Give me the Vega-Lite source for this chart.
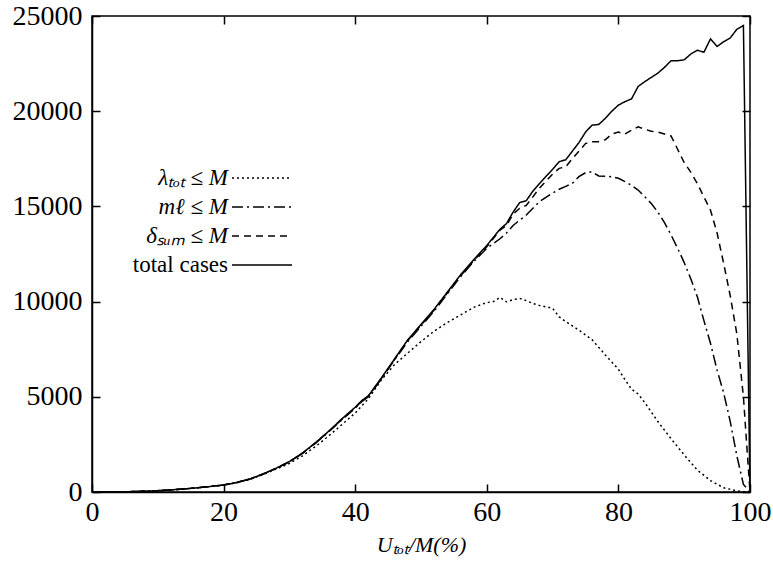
{
  "$schema": "https://vega.github.io/schema/vega-lite/v6.json",
  "width": 658,
  "height": 476,
  "autosize": {"type": "none"},
  "padding": {"left": 92, "top": 16, "right": 23, "bottom": 72},
  "background": "white",
  "config": {
    "view": {"stroke": "black", "strokeWidth": 1.5},
    "font": "Liberation Serif",
    "axis": {"grid": false, "domainColor": "black", "tickColor": "#000000", "labelColor": "black", "titleColor": "black", "domainWidth": 1.5, "tickWidth": 1.5, "labelFont": "Liberation Serif", "titleFont": "Liberation Serif"}
  },
  "datasets": {
    "frame": [{"x": 0, "y": 0}, {"x": 100, "y": 25000}],
    "curves": [
    {"x":0,"k":"t","y":0},{"x":2,"k":"t","y":2},{"x":4,"k":"t","y":8},{"x":6,"k":"t","y":20},{"x":8,"k":"t","y":40},{"x":10,"k":"t","y":70},{"x":12,"k":"t","y":110},{"x":14,"k":"t","y":160},{"x":16,"k":"t","y":220},{"x":18,"k":"t","y":290},{"x":20,"k":"t","y":370},{"x":22,"k":"t","y":500},{"x":24,"k":"t","y":680},{"x":26,"k":"t","y":950},{"x":28,"k":"t","y":1250},{"x":30,"k":"t","y":1600},{"x":32,"k":"t","y":2050},{"x":34,"k":"t","y":2600},{"x":36,"k":"t","y":3200},{"x":38,"k":"t","y":3850},{"x":40,"k":"t","y":4450},{"x":41,"k":"t","y":4800},{"x":42,"k":"t","y":5050},{"x":44,"k":"t","y":6000},{"x":46,"k":"t","y":7000},{"x":48,"k":"t","y":8000},{"x":50,"k":"t","y":8800},{"x":52,"k":"t","y":9600},{"x":54,"k":"t","y":10500},{"x":56,"k":"t","y":11400},{"x":58,"k":"t","y":12200},{"x":60,"k":"t","y":12950},{"x":62,"k":"t","y":13800},{"x":63,"k":"t","y":14100},{"x":64,"k":"t","y":14700},{"x":65,"k":"t","y":15200},{"x":66,"k":"t","y":15300},{"x":67,"k":"t","y":15800},{"x":68,"k":"t","y":16200},{"x":70,"k":"t","y":16950},{"x":71,"k":"t","y":17350},{"x":72,"k":"t","y":17450},{"x":74,"k":"t","y":18350},{"x":75,"k":"t","y":18900},{"x":76,"k":"t","y":19270},{"x":77,"k":"t","y":19300},{"x":78,"k":"t","y":19620},{"x":79,"k":"t","y":20000},{"x":80,"k":"t","y":20320},{"x":81,"k":"t","y":20500},{"x":82,"k":"t","y":20650},{"x":83,"k":"t","y":21300},{"x":84,"k":"t","y":21550},{"x":86,"k":"t","y":22000},{"x":87,"k":"t","y":22300},{"x":88,"k":"t","y":22650},{"x":89,"k":"t","y":22650},{"x":90,"k":"t","y":22700},{"x":91,"k":"t","y":23000},{"x":92,"k":"t","y":23200},{"x":93,"k":"t","y":23100},{"x":94,"k":"t","y":23800},{"x":95,"k":"t","y":23400},{"x":96,"k":"t","y":23650},{"x":97,"k":"t","y":23850},{"x":98,"k":"t","y":24300},{"x":99,"k":"t","y":24500},{"x":100,"k":"t","y":0},
    {"x":0,"k":"m","y":0},{"x":2,"k":"m","y":2},{"x":4,"k":"m","y":8},{"x":6,"k":"m","y":20},{"x":8,"k":"m","y":40},{"x":10,"k":"m","y":70},{"x":12,"k":"m","y":110},{"x":14,"k":"m","y":160},{"x":16,"k":"m","y":220},{"x":18,"k":"m","y":290},{"x":20,"k":"m","y":370},{"x":22,"k":"m","y":500},{"x":24,"k":"m","y":680},{"x":26,"k":"m","y":940},{"x":28,"k":"m","y":1240},{"x":30,"k":"m","y":1580},{"x":32,"k":"m","y":2030},{"x":34,"k":"m","y":2570},{"x":36,"k":"m","y":3170},{"x":38,"k":"m","y":3800},{"x":40,"k":"m","y":4400},{"x":41,"k":"m","y":4750},{"x":42,"k":"m","y":5000},{"x":44,"k":"m","y":5950},{"x":46,"k":"m","y":6950},{"x":48,"k":"m","y":7900},{"x":50,"k":"m","y":8700},{"x":52,"k":"m","y":9500},{"x":54,"k":"m","y":10400},{"x":56,"k":"m","y":11300},{"x":58,"k":"m","y":12100},{"x":60,"k":"m","y":12800},{"x":62,"k":"m","y":13300},{"x":63,"k":"m","y":13600},{"x":64,"k":"m","y":14000},{"x":66,"k":"m","y":14550},{"x":68,"k":"m","y":15250},{"x":70,"k":"m","y":15700},{"x":71,"k":"m","y":15900},{"x":72,"k":"m","y":16050},{"x":73,"k":"m","y":16210},{"x":74,"k":"m","y":16560},{"x":75,"k":"m","y":16770},{"x":76,"k":"m","y":16820},{"x":77,"k":"m","y":16600},{"x":78,"k":"m","y":16580},{"x":79,"k":"m","y":16560},{"x":80,"k":"m","y":16480},{"x":81,"k":"m","y":16300},{"x":82,"k":"m","y":16100},{"x":83,"k":"m","y":15860},{"x":84,"k":"m","y":15510},{"x":85,"k":"m","y":15150},{"x":86,"k":"m","y":14700},{"x":87,"k":"m","y":14150},{"x":88,"k":"m","y":13500},{"x":89,"k":"m","y":12800},{"x":90,"k":"m","y":12050},{"x":91,"k":"m","y":11200},{"x":92,"k":"m","y":10250},{"x":93,"k":"m","y":9000},{"x":94,"k":"m","y":7800},{"x":95,"k":"m","y":6400},{"x":96,"k":"m","y":5200},{"x":97,"k":"m","y":3700},{"x":98,"k":"m","y":1900},{"x":99,"k":"m","y":400},{"x":100,"k":"m","y":0},
    {"x":0,"k":"d","y":0},{"x":2,"k":"d","y":2},{"x":4,"k":"d","y":8},{"x":6,"k":"d","y":20},{"x":8,"k":"d","y":40},{"x":10,"k":"d","y":70},{"x":12,"k":"d","y":110},{"x":14,"k":"d","y":160},{"x":16,"k":"d","y":220},{"x":18,"k":"d","y":290},{"x":20,"k":"d","y":370},{"x":22,"k":"d","y":500},{"x":24,"k":"d","y":680},{"x":26,"k":"d","y":945},{"x":28,"k":"d","y":1245},{"x":30,"k":"d","y":1590},{"x":32,"k":"d","y":2040},{"x":34,"k":"d","y":2590},{"x":36,"k":"d","y":3185},{"x":38,"k":"d","y":3830},{"x":40,"k":"d","y":4420},{"x":41,"k":"d","y":4780},{"x":42,"k":"d","y":5030},{"x":44,"k":"d","y":5970},{"x":46,"k":"d","y":6970},{"x":48,"k":"d","y":7960},{"x":50,"k":"d","y":8760},{"x":52,"k":"d","y":9560},{"x":54,"k":"d","y":10450},{"x":56,"k":"d","y":11350},{"x":58,"k":"d","y":12150},{"x":60,"k":"d","y":12880},{"x":62,"k":"d","y":13750},{"x":63,"k":"d","y":14000},{"x":64,"k":"d","y":14600},{"x":65,"k":"d","y":14900},{"x":66,"k":"d","y":15050},{"x":67,"k":"d","y":15500},{"x":68,"k":"d","y":15960},{"x":70,"k":"d","y":16700},{"x":71,"k":"d","y":17000},{"x":72,"k":"d","y":17080},{"x":73,"k":"d","y":17500},{"x":74,"k":"d","y":17900},{"x":75,"k":"d","y":18300},{"x":76,"k":"d","y":18400},{"x":77,"k":"d","y":18400},{"x":78,"k":"d","y":18500},{"x":79,"k":"d","y":18800},{"x":80,"k":"d","y":18900},{"x":81,"k":"d","y":18800},{"x":82,"k":"d","y":19000},{"x":83,"k":"d","y":19180},{"x":84,"k":"d","y":19050},{"x":85,"k":"d","y":18950},{"x":86,"k":"d","y":18900},{"x":87,"k":"d","y":18800},{"x":88,"k":"d","y":18700},{"x":89,"k":"d","y":18000},{"x":90,"k":"d","y":17300},{"x":91,"k":"d","y":16800},{"x":92,"k":"d","y":16200},{"x":93,"k":"d","y":15500},{"x":94,"k":"d","y":14800},{"x":95,"k":"d","y":13600},{"x":96,"k":"d","y":12000},{"x":97,"k":"d","y":10300},{"x":98,"k":"d","y":8300},{"x":99,"k":"d","y":5000},{"x":100,"k":"d","y":0},
    {"x":0,"k":"l","y":0},{"x":2,"k":"l","y":2},{"x":4,"k":"l","y":8},{"x":6,"k":"l","y":20},{"x":8,"k":"l","y":40},{"x":10,"k":"l","y":70},{"x":12,"k":"l","y":110},{"x":14,"k":"l","y":160},{"x":16,"k":"l","y":220},{"x":18,"k":"l","y":290},{"x":20,"k":"l","y":360},{"x":22,"k":"l","y":490},{"x":24,"k":"l","y":660},{"x":26,"k":"l","y":920},{"x":28,"k":"l","y":1200},{"x":30,"k":"l","y":1500},{"x":32,"k":"l","y":1900},{"x":34,"k":"l","y":2400},{"x":36,"k":"l","y":2950},{"x":38,"k":"l","y":3550},{"x":40,"k":"l","y":4150},{"x":42,"k":"l","y":4900},{"x":44,"k":"l","y":5900},{"x":46,"k":"l","y":6700},{"x":48,"k":"l","y":7300},{"x":50,"k":"l","y":7900},{"x":52,"k":"l","y":8450},{"x":54,"k":"l","y":8900},{"x":56,"k":"l","y":9300},{"x":58,"k":"l","y":9700},{"x":60,"k":"l","y":9950},{"x":61,"k":"l","y":10000},{"x":62,"k":"l","y":10220},{"x":63,"k":"l","y":9990},{"x":64,"k":"l","y":10100},{"x":65,"k":"l","y":10170},{"x":66,"k":"l","y":10050},{"x":67,"k":"l","y":9900},{"x":68,"k":"l","y":9800},{"x":70,"k":"l","y":9650},{"x":71,"k":"l","y":9200},{"x":72,"k":"l","y":8950},{"x":74,"k":"l","y":8500},{"x":75,"k":"l","y":8250},{"x":76,"k":"l","y":8000},{"x":78,"k":"l","y":7200},{"x":80,"k":"l","y":6450},{"x":81,"k":"l","y":5900},{"x":82,"k":"l","y":5400},{"x":83,"k":"l","y":5150},{"x":84,"k":"l","y":4700},{"x":86,"k":"l","y":3700},{"x":88,"k":"l","y":2800},{"x":90,"k":"l","y":1950},{"x":92,"k":"l","y":1150},{"x":94,"k":"l","y":600},{"x":96,"k":"l","y":220},{"x":98,"k":"l","y":60},{"x":99,"k":"l","y":20},{"x":100,"k":"l","y":0}
    ]
  },
  "layer": [
    {
      "data": {"name": "frame"},
      "mark": {"type": "point", "opacity": 0},
      "encoding": {
        "x": {"field": "x", "type": "quantitative", "scale": {"domain": [0, 100], "nice": false}, "axis": {"orient": "top", "offset": -476, "values": [0, 20, 40, 60, 80, 100], "ticks": true, "tickSize": 8, "tickColor": "#000000", "labels": false, "domain": false, "title": null}},
        "y": {"field": "y", "type": "quantitative", "scale": {"domain": [0, 25000], "nice": false}, "axis": {"orient": "right", "offset": -658, "values": [0, 5000, 10000, 15000, 20000, 25000], "ticks": true, "tickSize": 8, "tickColor": "#000000", "labels": false, "domain": false, "title": null}}
      }
    },
    {
      "data": {"name": "frame"},
      "mark": {"type": "point", "opacity": 0},
      "encoding": {
        "x": {"field": "x", "type": "quantitative", "axis": {"orient": "bottom", "offset": -476, "values": [0, 20, 40, 60, 80, 100], "ticks": true, "tickSize": 8, "tickColor": "#000000", "labels": false, "domain": false, "title": null}},
        "y": {"field": "y", "type": "quantitative", "axis": {"orient": "left", "offset": -658, "values": [0, 5000, 10000, 15000, 20000, 25000], "ticks": true, "tickSize": 8, "tickColor": "#000000", "labels": false, "domain": false, "title": null}}
      }
    },
    {
      "data": {"name": "curves"},
      "mark": {"type": "line", "color": "black", "strokeWidth": 1.5},
      "encoding": {
        "x": {"field": "x", "type": "quantitative",
          "axis": {"orient": "bottom", "values": [0, 20, 40, 60, 80, 100], "ticks": false, "labelPadding": 6, "labelFontSize": 28, "labelFlush": false,
            "title": "Uₜₒₜ/M(%)", "titleFontSize": 22, "titleFontWeight": "normal", "titleFontStyle": "italic", "titlePadding": 8}},
        "y": {"field": "y", "type": "quantitative",
          "axis": {"orient": "left", "values": [0, 5000, 10000, 15000, 20000, 25000], "format": "d", "ticks": false, "labelPadding": 10, "labelFontSize": 28, "labelFlush": false, "title": null}},
        "strokeDash": {"field": "k", "type": "nominal",
          "scale": {"domain": ["l", "m", "d", "t"], "range": [[2, 3], [11, 4, 2, 4], [7, 5], [1, 0]]},
          "legend": {"orient": "none", "legendX": 154, "legendY": 146, "title": null, "padding": 0,
            "symbolType": "M-2,0L2,0", "symbolSize": 900, "symbolStrokeWidth": 1.5, "symbolStrokeColor": "black", "symbolFillColor": "transparent",
            "labelFontSize": 23, "labelColor": "black", "labelAlign": "right", "labelOffset": -50, "rowPadding": 1,
            "labelExpr": "datum.value == 'l' ? 'λₜₒₜ ≤ M' : datum.value == 'm' ? 'mℓ ≤ M' : datum.value == 'd' ? 'δₛᵤₘ ≤ M' : 'total cases'",
            "encode": {"labels": {"update": {"fontStyle": {"signal": "datum.value == 't' ? 'normal' : 'italic'"}}}}}
        }
      }
    }
  ],
  "resolve": {"axis": {"x": "independent", "y": "independent"}}
}
